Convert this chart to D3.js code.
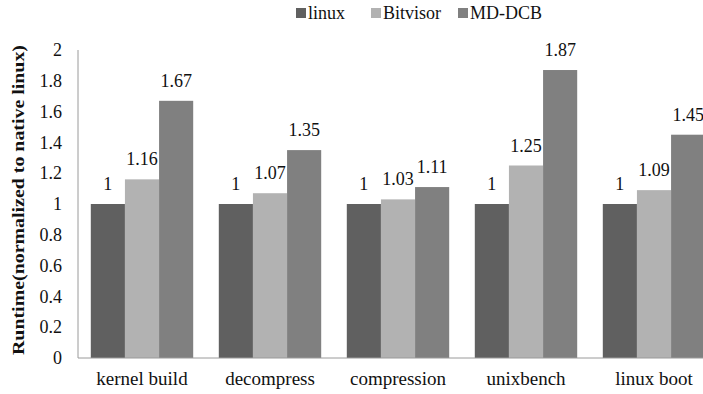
<!DOCTYPE html>
<html><head><meta charset="utf-8">
<script src="https://cdn.jsdelivr.net/npm/d3@7"></script>
<style>body{margin:0;background:#fff}svg{display:block}</style>
</head><body>
<svg id="c" width="703" height="394"></svg>
<script>
const categories = ["kernel build","decompress","compression","unixbench","linux boot"];
const seriesNames = ["linux","Bitvisor","MD-DCB"];
const linux = [1,1,1,1,1];
const bitvisor = [1.16,1.07,1.03,1.25,1.09];
const mddcb = [1.67,1.35,1.11,1.87,1.45];
const yTicks = [0,0.2,0.4,0.6,0.8,1,1.2,1.4,1.6,1.8,2];
const colors = ["#606060","#b2b2b2","#808080"];
const yTitle = "Runtime(normalized to native linux)";

const FONT = "Liberation Serif";
const series = [linux, bitvisor, mddcb];
const svg = d3.select("#c");
const mLeft = 78, mRight = 718, mTop = 50, mBottom = 358;

const x0 = d3.scaleBand().domain(categories).range([mLeft, mRight]).paddingInner(0.2).paddingOuter(0.1);
const x1 = d3.scaleBand().domain(seriesNames).range([0, x0.bandwidth()]);
const y = d3.scaleLinear().domain([0, 2]).range([mBottom, mTop]);

// bars
const rows = [];
categories.forEach((c, i) => seriesNames.forEach((s, j) => rows.push({c, s, j, v: series[j][i]})));
svg.append("g").selectAll("rect").data(rows).join("rect")
  .attr("x", d => x0(d.c) + x1(d.s))
  .attr("y", d => y(d.v))
  .attr("width", x1.bandwidth())
  .attr("height", d => y(0) - y(d.v))
  .attr("fill", d => colors[d.j]);

// value labels
svg.append("g").selectAll("text").data(rows).join("text")
  .attr("x", d => x0(d.c) + x1(d.s) + x1.bandwidth() / 2)
  .attr("y", d => y(d.v) - 14)
  .attr("text-anchor", "middle")
  .attr("font-family", FONT).attr("font-size", 18).attr("fill", "#111")
  .text(d => d3.format("")(d.v));

// y axis
const yAxis = d3.axisLeft(y).tickValues(yTicks).tickSize(0).tickPadding(16).tickFormat(d3.format(""));
const gy = svg.append("g").attr("transform", `translate(${mLeft},0)`).call(yAxis)
  .attr("font-family", FONT).attr("font-size", 18);
gy.select(".domain").attr("stroke", "#9a9a9a").attr("d", `M0,${mTop}V${mBottom}`);
gy.selectAll("text").attr("fill", "#111");

// x axis
const xAxis = d3.axisBottom(x0).tickSize(0);
const gx = svg.append("g").attr("transform", `translate(0,${mBottom})`).call(xAxis)
  .attr("font-family", FONT).attr("font-size", 19);
gx.select(".domain").attr("stroke", "#9a9a9a").attr("d", `M${mLeft},0H${mRight}`);
gx.selectAll("text").attr("fill", "#111").attr("y", 27).attr("dy", 0);

// y title
svg.append("text")
  .attr("transform", `translate(24,200) rotate(-90)`)
  .attr("text-anchor", "middle")
  .attr("font-family", FONT).attr("font-size", 16).attr("font-weight", "bold").attr("fill", "#111")
  .attr("textLength", 310).attr("lengthAdjust", "spacingAndGlyphs")
  .text(yTitle);

// legend
const legX = [296, 371, 458];
const lg = svg.append("g").selectAll("g").data(seriesNames).join("g")
  .attr("transform", (d, i) => `translate(${legX[i]},8)`);
lg.append("rect").attr("width", 10).attr("height", 10).attr("fill", (d, i) => colors[i]);
lg.append("text").attr("x", 12).attr("y", 11)
  .attr("font-family", FONT).attr("font-size", 18).attr("fill", "#111").text(d => d);
</script>
</body></html>
